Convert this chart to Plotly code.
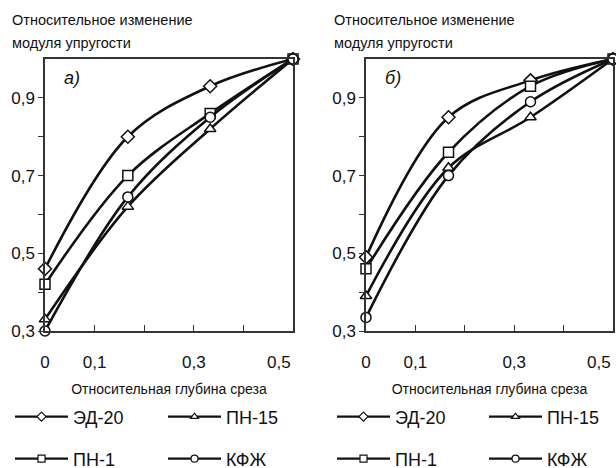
import plotly.graph_objects as go

# ---- data ----
depth = [0, 0.167, 0.333, 0.5]
series_names = ["ЭД-20", "ПН-15", "ПН-1", "КФЖ"]
series_symbols = ["diamond", "triangle-up", "square", "circle"]

a_ed20 = [0.46, 0.80, 0.93, 1.0]
a_pn15 = [0.33, 0.62, 0.82, 1.0]
a_pn1 = [0.42, 0.70, 0.86, 1.0]
a_kfzh = [0.30, 0.645, 0.85, 1.0]

b_ed20 = [0.49, 0.85, 0.945, 1.0]
b_pn15 = [0.39, 0.72, 0.85, 1.0]
b_pn1 = [0.46, 0.76, 0.93, 1.0]
b_kfzh = [0.335, 0.70, 0.89, 1.0]

x_tickvals = [0, 0.1, 0.2, 0.3, 0.4, 0.5]
x_ticktext = ["0", "0,1", "", "0,3", "", "0,5\u00a0\u00a0\u00a0\u00a0\u00a0\u00a0"]
y_tickvals = [0.3, 0.4, 0.5, 0.6, 0.7, 0.8, 0.9]
y_ticktext = ["0,3", "", "0,5", "", "0,7", "", "0,9"]

y_title_lines = ["Относительное изменение", "модуля упругости"]
x_title = "Относительная глубина среза"
panel_labels = ["а)", "б)"]

W, H = 616, 468
NARROW = "Liberation Sans, Arial, Helvetica, sans-serif"
REG = "Liberation Sans, Arial, Helvetica, sans-serif"

fig = go.Figure()

# legend slot positions (px): (x, y) per series, per panel
legend_pos = {
    0: [(10, 417), (163, 417), (10, 459), (163, 459)],
    1: [(332, 417), (484, 417), (332, 459), (484, 459)],
}

panels = [
    ("x", "y", [a_ed20, a_pn15, a_pn1, a_kfzh]),
    ("x2", "y2", [b_ed20, b_pn15, b_pn1, b_kfzh]),
]

legend_layout = {}
leg_idx = 0
for p, (xa, ya, vals) in enumerate(panels):
    for name, sym, v in zip(series_names, series_symbols, vals):
        fig.add_trace(go.Scatter(
            x=depth, y=v, xaxis=xa, yaxis=ya, mode="lines+markers",
            line=dict(color="#111111", width=2.6, shape="spline", smoothing=1.0),
            marker=dict(symbol=sym, size=10, color="white",
                        line=dict(color="#111111", width=1.5)),
            showlegend=False, cliponaxis=False, name=name,
        ))
    for i, (name, sym) in enumerate(zip(series_names, series_symbols)):
        leg_idx += 1
        lname = "legend" if leg_idx == 1 else "legend%d" % leg_idx
        fig.add_trace(go.Scatter(
            x=[None], y=[None], xaxis=xa, yaxis=ya, mode="lines+markers",
            line=dict(color="#111111", width=2.2),
            marker=dict(symbol=sym, size=7, color="white",
                        line=dict(color="#111111", width=1.2)),
            name=name, showlegend=True, legend=lname,
        ))
        lx, ly = legend_pos[p][i]
        legend_layout[lname] = dict(
            x=lx / W, y=1 - ly / H, xanchor="left", yanchor="middle",
            orientation="v", bgcolor="rgba(0,0,0,0)", borderwidth=0,
            itemwidth=53, font=dict(family=REG, size=18, color="#111111"),
        )

left_dom = [45 / W, 293 / W]
right_dom = [366 / W, 613 / W]
y_dom = [(H - 331) / H, (H - 59) / H]

def xaxis_cfg(dom, anchor):
    return dict(
        domain=dom, anchor=anchor, range=[0, 0.5], tickmode="array",
        tickvals=x_tickvals, ticktext=x_ticktext, ticks="inside", ticklen=6,
        tickwidth=1.2, tickcolor="#333333", showline=True, linecolor="#333333",
        linewidth=1.5, mirror=True, showgrid=False, zeroline=False,
        tickfont=dict(family=REG, size=17, color="#111111"),
        ticklabelstandoff=15, ticklabeloverflow="allow", automargin=False,
        title=dict(text=x_title, font=dict(family=NARROW, size=14, color="#111111"),
                   standoff=13),
    )

def yaxis_cfg(anchor):
    return dict(
        domain=y_dom, anchor=anchor, range=[0.3, 1.0], tickmode="array",
        tickvals=y_tickvals, ticktext=y_ticktext, ticks="outside", ticklen=5,
        tickwidth=1.2, tickcolor="#333333", showline=True, linecolor="#333333",
        linewidth=1.5, mirror=True, showgrid=False, zeroline=False,
        tickfont=dict(family=REG, size=17, color="#111111"), automargin=False,
    )

fig.update_layout(
    width=W, height=H, margin=dict(l=0, r=0, t=0, b=0, autoexpand=False),
    paper_bgcolor="white", plot_bgcolor="white",
    xaxis=xaxis_cfg(left_dom, "y"), yaxis=yaxis_cfg("x"),
    xaxis2=xaxis_cfg(right_dom, "y2"), yaxis2=yaxis_cfg("x2"),
    **legend_layout,
)

for xpos in [10, 332]:
    for line_text, ypos in zip(y_title_lines, [20, 43]):
        fig.add_annotation(text=line_text, xref="paper", yref="paper", x=xpos / W,
                           y=1 - ypos / H, xanchor="left", yanchor="middle",
                           showarrow=False, align="left",
                           font=dict(family=NARROW, size=14.5, color="#111111"))

fig.add_annotation(text="<i>" + panel_labels[0] + "</i>", xref="x domain", yref="y domain",
                   x=0.07, y=0.93, xanchor="left", yanchor="middle", showarrow=False,
                   font=dict(family=REG, size=18, color="#111111"))
fig.add_annotation(text="<i>" + panel_labels[1] + "</i>", xref="x2 domain", yref="y2 domain",
                   x=0.07, y=0.93, xanchor="left", yanchor="middle", showarrow=False,
                   font=dict(family=REG, size=18, color="#111111"))

fig.write_html("out.html")
